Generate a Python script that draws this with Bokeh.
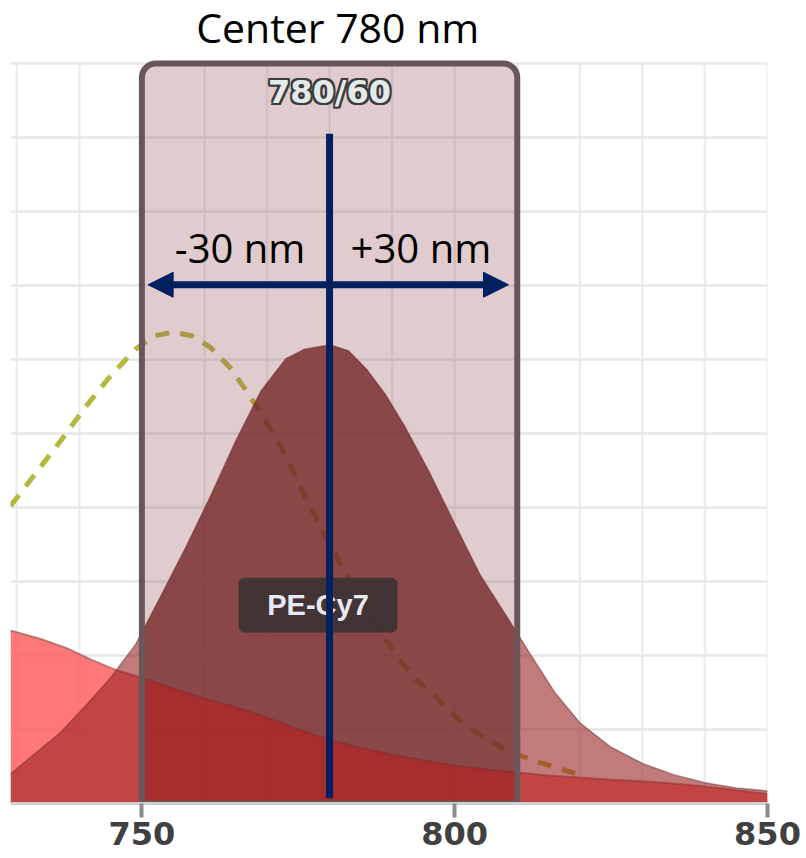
import numpy as np
from bokeh.plotting import figure
from bokeh.models import Range1d, FixedTicker, Arrow, NormalHead
from bokeh.embed import file_html
from bokeh.resources import INLINE
from bokeh.core.properties import value

# ---------------- data ----------------
# PE-Cy7 emission (dark red bell)
bell_wl = [729, 733, 737, 741, 745, 749, 753, 757, 761, 765, 769, 773, 776, 780,
           783, 786, 789, 792, 796, 800, 804, 808, 812, 816, 820, 825, 830, 835,
           840, 845, 850]
bell_val = [4.0, 6.8, 9.6, 13.2, 17.0, 21.5, 28.0, 34.6, 41.6, 49.0, 55.7, 60.1,
            61.4, 62.0, 61.2, 58.6, 55.2, 51.0, 44.7, 37.8, 31.0, 25.7, 20.3,
            15.0, 10.9, 7.6, 5.4, 3.9, 2.8, 2.1, 1.7]

# neighbouring dye emission tail (light red, decreasing)
tail_wl = [729, 734, 738, 742, 746, 750, 755, 760, 765, 770, 775, 780, 785, 790,
           795, 800, 805, 810, 815, 820, 825, 830, 835, 840, 845, 850]
tail_val = [23.4, 22.2, 21.0, 19.4, 18.0, 17.0, 15.5, 14.2, 13.0, 11.6, 10.0, 8.6,
            7.5, 6.6, 5.8, 5.1, 4.6, 4.2, 3.8, 3.5, 3.2, 3.0, 2.7, 2.3, 1.8, 1.3]

# dashed spectrum (yellow-green)
dash_wl = [729, 733, 737, 741, 745, 749, 752, 755, 758, 761, 764, 767, 770, 773,
           776, 779, 782, 785, 788, 791, 794, 797, 800, 804, 808, 812, 816, 820]
dash_val = [40.2, 44.6, 49.0, 53.6, 57.8, 61.4, 63.2, 63.7, 63.2, 61.6, 59.0, 55.4,
            51.4, 47.0, 41.6, 36.7, 32.0, 27.6, 23.4, 19.6, 16.6, 14.4, 11.8, 9.3,
            7.3, 6.0, 4.9, 3.9]

# filter
center_wl = 780
bandwidth = 60
filter_name = "780/60"
dye_name = "PE-Cy7"
title_text = "Center 780 nm"
half_labels = ["-30 nm", "+30 nm"]

# axes
tick_values = [750, 800, 850]
tick_labels = ["750", "800", "850"]
grid_x = list(range(730, 851, 10))
grid_y = list(range(0, 101, 10))
y_max = 100

NAVY = "#002060"

lo = center_wl - bandwidth / 2
hi = center_wl + bandwidth / 2


def clip_band(wl, val, a, b):
    wl = np.asarray(wl, float)
    val = np.asarray(val, float)
    inner = (wl > a) & (wl < b)
    xs = np.concatenate([[a], wl[inner], [b]])
    ys = np.interp(xs, wl, val)
    return xs, ys


# frame spans the whole canvas height above the axis; the extra headroom
# above y=100 holds the title
p = figure(width=806, height=858, x_range=Range1d(729, 850),
           y_range=Range1d(0, y_max * 803 / 740),
           output_backend="svg", toolbar_location=None, y_axis_location=None,
           min_border_left=10, min_border_right=39, min_border_top=0,
           min_border_bottom=55)
p.outline_line_color = None
p.background_fill_color = "white"
p.border_fill_color = "white"

p.xgrid.visible = False
p.ygrid.ticker = FixedTicker(ticks=grid_y)
p.ygrid.grid_line_color = "#e8e8e8"
p.ygrid.grid_line_width = 2.5
p.segment(x0=grid_x, y0=0, x1=grid_x, y1=y_max, line_color="#ededed",
          line_width=2.5, level="underlay")

ax = p.xaxis[0]
ax.ticker = FixedTicker(ticks=tick_values)
ax.major_label_overrides = {v: l for v, l in zip(tick_values, tick_labels)}
ax.major_label_text_font = "DejaVu Sans"
ax.major_label_text_font_style = "bold"
ax.major_label_text_font_size = "32px"
ax.major_label_text_color = "#404040"
ax.major_label_standoff = 4
ax.major_tick_out = 14
ax.major_tick_in = 0
ax.major_tick_line_width = 4
ax.major_tick_line_color = "#8c8c8c"
ax.minor_tick_line_color = None
ax.axis_line_color = "#cfcfcf"
ax.axis_line_width = 3

# tail fill (bottom layer)
p.varea(x=tail_wl, y1=0, y2=tail_val, fill_color="#ff5555", fill_alpha=0.8)
p.line(x=tail_wl, y=tail_val, line_color="#8c5050", line_alpha=0.6, line_width=2)

# dashed spectrum
p.line(x=dash_wl, y=dash_val, line_color="#b4b83c", line_width=5, line_dash="14 11")

# bell fill
p.varea(x=bell_wl, y1=0, y2=bell_val, fill_color="#9a2323", fill_alpha=0.6)
p.line(x=bell_wl, y=bell_val, line_color="#6e3030", line_alpha=0.5, line_width=1.5)

# filter window overlay
p.quad(left=[lo], right=[hi], bottom=[0], top=[y_max], fill_color="#98555c",
       fill_alpha=0.3, line_color=None, border_radius=(14, 14, 0, 0))

# collected part inside filter (darker)
bx, by = clip_band(bell_wl, bell_val, lo, hi)
p.varea(x=bx, y1=0, y2=by, fill_color="#5c1c1c", fill_alpha=0.48)
tx, ty = clip_band(tail_wl, tail_val, lo, hi)
p.varea(x=tx, y1=0, y2=ty, fill_color="#c82828", fill_alpha=0.45)

# filter border
p.quad(left=[lo], right=[hi], bottom=[0], top=[y_max], fill_color=None,
       line_color="#6a5558", line_width=6, border_radius=(14, 14, 0, 0))

# filter name with outline effect
offs = [(-2, 0), (2, 0), (0, -2), (0, 2), (-2, -2), (2, 2), (-2, 2), (2, -2)]
for dx, dy in offs:
    p.text(x=[center_wl], y=[96.2], text=[filter_name], x_offset=dx, y_offset=dy,
           text_font=value("DejaVu Sans"), text_font_style="bold",
           text_font_size="32px", text_color="#3c3c3c", text_align="center",
           text_baseline="middle")
p.text(x=[center_wl], y=[96.2], text=[filter_name],
       text_font=value("DejaVu Sans"), text_font_style="bold",
       text_font_size="32px", text_color="#e2eaea", text_align="center",
       text_baseline="middle")

# dye label box
p.quad(left=[778.15 - 12.7], right=[778.15 + 12.7], bottom=[26.8 - 3.7],
       top=[26.8 + 3.7], fill_color="#3a3232", fill_alpha=0.9, line_color=None,
       border_radius=6)
p.text(x=[778.15], y=[26.8], text=[dye_name], text_font=value("Liberation Sans"),
       text_font_style="bold", text_font_size="29px", text_color="#e8e8f4",
       text_align="center", text_baseline="middle")

# center line
p.segment(x0=[center_wl], y0=[0.7], x1=[center_wl], y1=[90.5], line_color=NAVY,
          line_width=7)

# +/- half bandwidth texts
p.text(x=[765.7, 794.6], y=[75.1, 75.1], text=half_labels,
       text_font=value("Open Sans"), text_font_size="40px", text_color="black",
       text_align="center", text_baseline="middle")

# title
p.text(x=[781.3], y=[105.0], text=[title_text], text_font=value("Open Sans"),
       text_font_size="41px", text_color="black", text_align="center",
       text_baseline="middle")

# double arrow
p.add_layout(Arrow(start=NormalHead(size=25, fill_color=NAVY, line_color=NAVY),
                   end=NormalHead(size=25, fill_color=NAVY, line_color=NAVY),
                   x_start=lo + 1, y_start=70.1, x_end=hi - 1.4, y_end=70.1,
                   line_color=NAVY, line_width=7))

open("out.html", "w").write(file_html(p, INLINE))
